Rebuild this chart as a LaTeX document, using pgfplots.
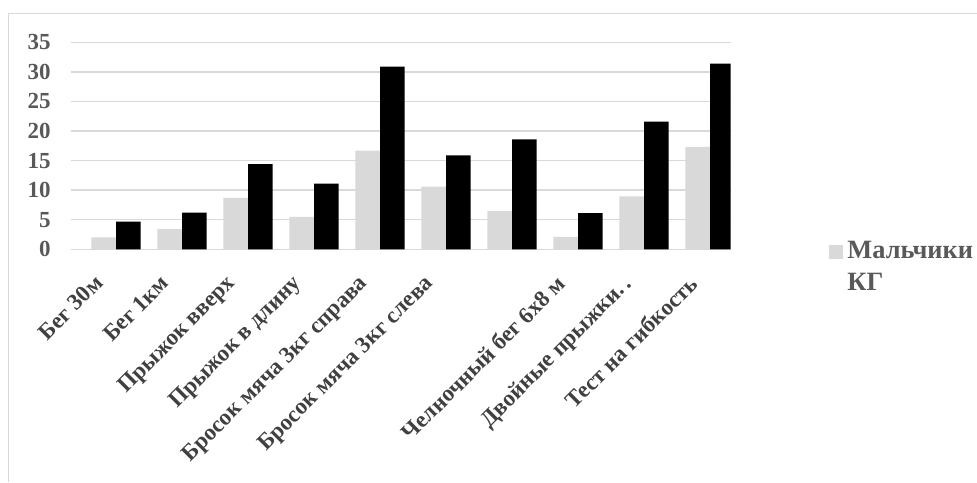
\documentclass[border=0pt]{standalone}
\usepackage{fontspec}
\setmainfont{Liberation Serif}
\usepackage{pgfplots}
\pgfplotsset{compat=1.18}
\definecolor{barlight}{HTML}{D9D9D9}
\definecolor{gridgray}{HTML}{D9D9D9}
\definecolor{tickgray}{HTML}{595959}
\definecolor{labgray}{HTML}{404040}
\begin{document}
\begin{tikzpicture}
\useasboundingbox (0,0) rectangle (488.5pt,241pt);
\draw[gridgray, line width=0.7pt] (4.25pt,0) -- (4.25pt,234.25pt) -- (488.5pt,234.25pt);
\begin{axis}[
  at={(35.35pt,116.35pt)}, anchor=south west,
  scale only axis, width=330pt, height=103.5pt,
  ybar=0pt, bar width=12.33pt,
  xmin=0.5, xmax=10.5, ymin=0, ymax=35,
  xtick={1,...,10},
  xticklabels={Бег 30м, Бег 1км, Прыжок вверх, Прыжок в длину, Бросок мяча 3кг справа, Бросок мяча 3кг слева, {}, Челночный бег 6х8 м, Двойные прыжки.\,., Тест на гибкость},
  ytick={0,5,...,35},
  ymajorgrids, grid style={gridgray, line width=0.7pt},
  axis line style={draw=none},
  tick style={draw=none},
  /pgf/number format/assume math mode=true,
  yticklabel style={font=\fontsize{11.5}{12}\selectfont\bfseries, text=tickgray, xshift=-6.5pt},
  xticklabel style={font=\fontsize{11.5}{12}\selectfont\bfseries, text=labgray, xshift=-5.2pt, yshift=-6.3pt, rotate=45, anchor=north east, inner sep=1pt},
  legend style={at={(1.149,0.087)}, anchor=north west, draw=none, fill=none, font=\fontsize{13.2}{16}\selectfont\bfseries, text=tickgray, inner sep=0pt, legend cell align=left},
  legend image code/.code={\fill[#1, draw=none] (0pt,-5.5pt) rectangle (7pt,1.5pt);},
]
\addplot[fill=barlight, draw=none] coordinates {(1,2.0) (2,3.4) (3,8.7) (4,5.5) (5,16.7) (6,10.6) (7,6.5) (8,2.1) (9,8.95) (10,17.3)};
\addlegendentry{\begin{tabular}[t]{@{}l@{}}Мальчики\\КГ\end{tabular}}
\addplot[fill=black, draw=none, forget plot] coordinates {(1,4.7) (2,6.2) (3,14.4) (4,11.1) (5,30.9) (6,15.9) (7,18.6) (8,6.1) (9,21.6) (10,31.4)};
\end{axis}
\end{tikzpicture}
\end{document}
